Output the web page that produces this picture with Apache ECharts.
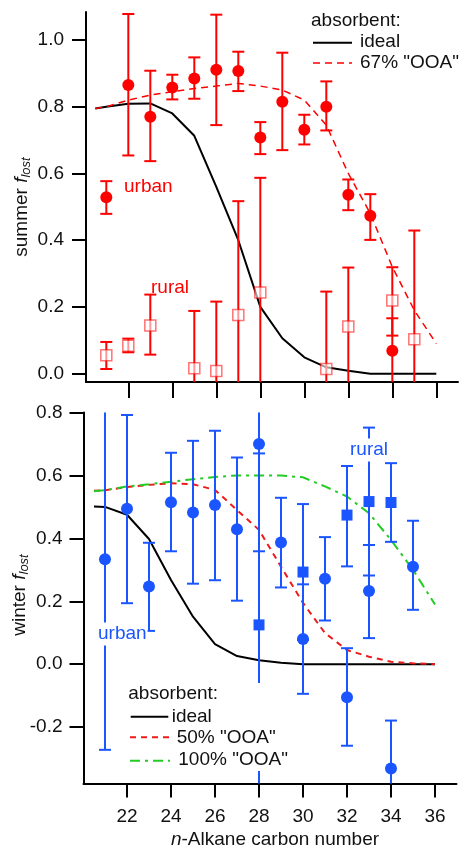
<!DOCTYPE html>
<html>
<head>
<meta charset="utf-8">
<script src="https://cdn.jsdelivr.net/npm/echarts@6.0.0/dist/echarts.min.js"></script>
<style>
html, body { margin: 0; padding: 0; background: #fff; }
#main { width: 464px; height: 849px; }
</style>
</head>
<body>
<div id="main"></div>
<script>
// model curves, sampled at these carbon numbers
var curveX = [20.5, 21, 22, 23, 24, 25, 26, 27, 28, 29, 30, 31, 32, 33, 34, 35, 36];
var sumIdeal = [0.795, 0.80, 0.809, 0.81, 0.78, 0.713, 0.56, 0.40, 0.20, 0.106, 0.049, 0.019, 0.009, 0.0, 0.0, 0.0, 0.0];
var sumOOA67 = [0.795, 0.80, 0.82, 0.835, 0.845, 0.855, 0.862, 0.87, 0.862, 0.85, 0.82, 0.745, 0.60, 0.48, 0.32, 0.19, 0.09];
var winIdeal = [0.501, 0.50, 0.475, 0.398, 0.268, 0.151, 0.064, 0.026, 0.013, 0.005, 0.0, 0.0, 0.0, 0.0, 0.0, 0.0, 0.0];
var winOOA50 = [0.551, 0.553, 0.563, 0.570, 0.575, 0.572, 0.554, 0.49, 0.427, 0.31, 0.195, 0.099, 0.045, 0.024, 0.008, 0.003, 0.0];
var winOOA100 = [0.55, 0.553, 0.565, 0.572, 0.58, 0.588, 0.595, 0.60, 0.60, 0.60, 0.594, 0.565, 0.533, 0.48, 0.395, 0.30, 0.19];

// summer urban
var sumUrbanX = [21, 22, 23, 24, 25, 26, 27, 28, 29, 30, 31, 32, 33, 34];
var sumUrban = [0.529, 0.865, 0.770, 0.858, 0.885, 0.911, 0.907, 0.708, 0.815, 0.731, 0.800, 0.536, 0.473, 0.069];
var sumUrbanHi = [0.577, 1.078, 0.908, 0.896, 0.948, 1.076, 0.965, 0.754, 0.962, 0.776, 0.876, 0.582, 0.538, 0.166];
var sumUrbanLo = [0.479, 0.654, 0.637, 0.822, 0.824, 0.745, 0.847, 0.658, 0.670, 0.687, 0.729, 0.490, 0.401, -0.028];
// summer rural
var sumRuralX = [21, 22, 23, 25, 26, 27, 28, 31, 32, 34, 35];
var sumRural = [0.055, 0.084, 0.144, 0.016, 0.008, 0.176, 0.243, 0.014, 0.141, 0.219, 0.103];
var sumRuralHi = [0.095, 0.105, 0.237, 0.188, 0.216, 0.517, 0.587, 0.246, 0.318, 0.319, 0.429];
var sumRuralLo = [0.014, 0.064, 0.057, -0.156, -0.2, -0.165, -0.1, -0.218, -0.036, 0.114, -0.223];

// winter urban
var winUrbanX = [21, 22, 23, 24, 25, 26, 27, 28, 29, 30, 31, 32, 33, 34, 35];
var winUrban = [0.334, 0.494, 0.247, 0.515, 0.482, 0.506, 0.429, 0.700, 0.387, 0.080, 0.272, -0.105, 0.233, -0.331, 0.310];
var winUrbanHi = [0.94, 0.792, 0.386, 0.672, 0.710, 0.742, 0.657, 1.04, 0.529, 0.254, 0.404, 0.051, 0.379, -0.179, 0.456];
var winUrbanLo = [-0.272, 0.194, 0.106, 0.359, 0.256, 0.267, 0.202, 0.359, 0.244, -0.094, 0.139, -0.259, 0.083, -0.48, 0.173];
// winter rural
var winRuralX = [28, 30, 32, 33, 34];
var winRural = [0.125, 0.293, 0.474, 0.517, 0.514];
var winRuralHi = [0.67, 0.509, 0.630, 0.752, 0.639];
var winRuralLo = [-0.42, 0.077, 0.311, 0.282, 0.389];

var xTicks = [22, 24, 26, 28, 30, 32, 34, 36];
var sumTicks = [0, 0.2, 0.4, 0.6, 0.8, 1.0];
var winTicks = [-0.2, 0, 0.2, 0.4, 0.6, 0.8];

var FONT = 'Liberation Sans, Arial, sans-serif';
var RED = '#ff0000';
var BLUE = '#1a55ff';
var GREEN = '#22cc22';
var sumMin = -0.025, sumMax = 1.084;
var winMin = -0.379, winMax = 0.8;

function pairs(xs, ys) {
    return xs.map(function (x, i) { return [x, ys[i]]; });
}
function errData(xs, hi, lo) {
    return xs.map(function (x, i) { return [x, hi[i], lo[i]]; });
}
function errRender(yMin, yMax, color) {
    return function (params, api) {
        var x = api.value(0), hi = api.value(1), lo = api.value(2);
        var capHi = hi <= yMax, capLo = lo >= yMin;
        hi = Math.min(hi, yMax);
        lo = Math.max(lo, yMin);
        var p1 = api.coord([x, hi]), p2 = api.coord([x, lo]);
        var st = { stroke: color, lineWidth: 2 };
        var kids = [{ type: 'line', shape: { x1: p1[0], y1: p1[1], x2: p2[0], y2: p2[1] }, style: st }];
        if (capHi) kids.push({ type: 'line', shape: { x1: p1[0] - 6, y1: p1[1], x2: p1[0] + 6, y2: p1[1] }, style: st });
        if (capLo) kids.push({ type: 'line', shape: { x1: p2[0] - 6, y1: p2[1], x2: p2[0] + 6, y2: p2[1] }, style: st });
        return { type: 'group', children: kids };
    };
}
function axisX(grid, left, showLabel, min, max) {
    return {
        type: 'value', gridIndex: grid, min: min, max: max,
        axisLine: { show: true, onZero: false, lineStyle: { color: '#000', width: 2 } },
        axisTick: { show: true, customValues: xTicks, length: showLabel ? 14 : 16, lineStyle: { color: '#000', width: 2 } },
        axisLabel: { show: showLabel, customValues: xTicks, margin: 24, fontSize: 19, fontFamily: FONT, color: '#111' },
        splitLine: { show: false }
    };
}
function axisY(grid, ticks, min, max, margin) {
    return {
        type: 'value', gridIndex: grid, min: min, max: max,
        axisLine: { show: true, onZero: false, lineStyle: { color: '#000', width: 2 } },
        axisTick: { show: true, customValues: ticks, length: 14, lineStyle: { color: '#000', width: 2 } },
        axisLabel: {
            customValues: ticks, margin: margin, fontSize: 19, fontFamily: FONT, color: '#111',
            formatter: function (v) { return v.toFixed(1); }
        },
        splitLine: { show: false }
    };
}
function curve(xi, data, color, dash, width) {
    return {
        type: 'line', xAxisIndex: xi, yAxisIndex: xi, data: pairs(curveX, data),
        symbol: 'none', silent: true, z: 1,
        lineStyle: { color: color, width: width, type: dash }
    };
}
function txt(x, y, s, color, extra) {
    var st = { text: s, x: x, y: y, fill: color || '#111', fontSize: 19, fontFamily: FONT, align: 'left', verticalAlign: 'middle' };
    for (var k in extra) st[k] = extra[k];
    return { type: 'text', z: 20, style: st };
}
function lgLine(x1, x2, y, color, dash, w) {
    return { type: 'line', z: 20, shape: { x1: x1, y1: y, x2: x2, y2: y }, style: { stroke: color, lineWidth: w, lineDash: dash } };
}
function yTitle(x, y, word) {
    return {
        type: 'text', z: 20, x: x, y: y, rotation: Math.PI / 2,
        style: {
            text: '{a|' + word + ' }{f|f}{s|lost}', align: 'center', verticalAlign: 'middle',
            rich: {
                a: { fontSize: 19, fontFamily: FONT, fill: '#111' },
                f: { fontSize: 19, fontFamily: FONT, fontStyle: 'italic', fill: '#111' },
                s: { fontSize: 13, fontFamily: FONT, fontStyle: 'italic', fill: '#111', padding: [10, 0, 0, 0] }
            }
        }
    };
}

var chart = echarts.init(document.getElementById('main'));
var option = {
    animation: false,
    backgroundColor: '#fff',
    grid: [
        { left: 86, top: 12, width: 372, height: 370 },
        { left: 83.5, top: 412.5, width: 373, height: 371 }
    ],
    xAxis: [axisX(0, 86, false, 20.077, 36.986), axisX(1, 83.5, true, 20.023, 36.977)],
    yAxis: [axisY(0, sumTicks, sumMin, sumMax, 22), axisY(1, winTicks, winMin, winMax, 21)],
    series: [
        curve(0, sumIdeal, '#000', 'solid', 2),
        curve(0, sumOOA67, RED, [7, 5], 1.5),
        curve(1, winIdeal, '#000', 'solid', 2),
        curve(1, winOOA50, '#ee1a1a', [6, 5], 2),
        curve(1, winOOA100, GREEN, [10, 5, 3, 5], 2),
        { type: 'custom', xAxisIndex: 0, yAxisIndex: 0, z: 2, silent: true, renderItem: errRender(sumMin, sumMax, RED), data: errData(sumRuralX, sumRuralHi, sumRuralLo) },
        { type: 'custom', xAxisIndex: 0, yAxisIndex: 0, z: 2, silent: true, renderItem: errRender(sumMin, sumMax, RED), data: errData(sumUrbanX, sumUrbanHi, sumUrbanLo) },
        { type: 'custom', xAxisIndex: 1, yAxisIndex: 1, z: 2, silent: true, renderItem: errRender(winMin, winMax, BLUE), data: errData(winUrbanX, winUrbanHi, winUrbanLo) },
        { type: 'custom', xAxisIndex: 1, yAxisIndex: 1, z: 2, silent: true, renderItem: errRender(winMin, winMax, BLUE), data: errData(winRuralX, winRuralHi, winRuralLo) },
        {
            type: 'scatter', xAxisIndex: 0, yAxisIndex: 0, z: 3, symbol: 'rect', symbolSize: 11,
            itemStyle: { color: 'rgba(255,255,255,0.6)', borderColor: 'rgba(255,0,0,0.55)', borderWidth: 1.5, opacity: 1 },
            data: pairs(sumRuralX, sumRural)
        },
        {
            type: 'scatter', xAxisIndex: 0, yAxisIndex: 0, z: 3, symbol: 'circle', symbolSize: 12,
            itemStyle: { color: RED, opacity: 1 }, data: pairs(sumUrbanX, sumUrban)
        },
        {
            type: 'scatter', xAxisIndex: 1, yAxisIndex: 1, z: 3, symbol: 'circle', symbolSize: 12,
            itemStyle: { color: BLUE, opacity: 1 }, data: pairs(winUrbanX, winUrban)
        },
        {
            type: 'scatter', xAxisIndex: 1, yAxisIndex: 1, z: 3, symbol: 'rect', symbolSize: 11,
            itemStyle: { color: BLUE, opacity: 1 }, data: pairs(winRuralX, winRural)
        }
    ],
    graphic: [
        yTitle(21.5, 207, 'summer'),
        yTitle(19.5, 595, 'winter'),
        {
            type: 'text', z: 20, x: 275, y: 840,
            style: {
                text: '{i|n}{a|-Alkane carbon number}', align: 'center', verticalAlign: 'middle',
                rich: {
                    i: { fontSize: 19, fontFamily: FONT, fontStyle: 'italic', fill: '#111' },
                    a: { fontSize: 19, fontFamily: FONT, fill: '#111' }
                }
            }
        },
        // summer legend
        txt(311, 21, 'absorbent:'),
        lgLine(313, 352, 42.7, '#000', null, 2),
        txt(360, 42, 'ideal'),
        lgLine(313, 352, 63, RED, [7, 5], 1.5),
        txt(360, 63, '67% "OOA"'),
        txt(124, 187, 'urban', RED),
        txt(151, 288, 'rural', RED),
        // winter legend box
        { type: 'rect', z: 19, shape: { x: 122, y: 683, width: 170, height: 88 }, style: { fill: '#fff' } },
        txt(128.3, 694, 'absorbent:'),
        lgLine(130.7, 168.3, 716.7, '#000', null, 2),
        txt(171.7, 716.7, 'ideal'),
        lgLine(130, 170, 737.3, '#ee1a1a', [6, 5], 2),
        txt(176.7, 737.5, '50% "OOA"'),
        lgLine(130, 170, 760.7, GREEN, [10, 5, 3, 5], 2),
        txt(178.3, 760, '100% "OOA"'),
        txt(97, 634, 'urban', BLUE, { backgroundColor: '#fff', padding: [2, 1, 2, 1] }),
        txt(349, 450, 'rural', BLUE, { backgroundColor: '#fff', padding: [2, 1, 2, 1] })
    ]
};
chart.setOption(option);
</script>
</body>
</html>
